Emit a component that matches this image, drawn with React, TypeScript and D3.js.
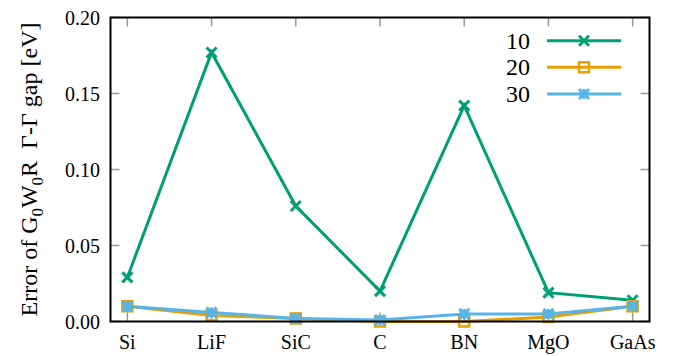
import React from "react";
import * as d3 from "d3";

const categories = ["Si", "LiF", "SiC", "C", "BN", "MgO", "GaAs"];
const series10 = [0.029, 0.177, 0.076, 0.020, 0.142, 0.019, 0.014];
const series20 = [0.010, 0.004, 0.002, 0.000, 0.000, 0.003, 0.010];
const series30 = [0.010, 0.006, 0.002, 0.001, 0.005, 0.005, 0.010];
const seriesNames = ["10", "20", "30"];
const yTicks = [0, 0.05, 0.1, 0.15, 0.2];

const W = 680;
const H = 356;
const L = 110.5, R = 649.5, T = 17.5, B = 321.5;
const FONT = '"Liberation Serif", "Times New Roman", serif';

const colors = ["#009e73", "#e69f00", "#56b4e9"];

function Marker({ kind, x, y, color }: { kind: string; x: number; y: number; color: string }) {
  const s = 5;
  if (kind === "x") {
    return (
      <path
        d={`M${x - s},${y - s}L${x + s},${y + s}M${x - s},${y + s}L${x + s},${y - s}`}
        stroke={color}
        strokeWidth={3}
        fill="none"
      />
    );
  }
  if (kind === "sq") {
    return (
      <rect x={x - 5} y={y - 5} width={10} height={10} fill="none" stroke={color} strokeWidth={2.5} />
    );
  }
  return (
    <g stroke={color} strokeWidth={3} fill="none">
      <path d={`M${x - s},${y - s}L${x + s},${y + s}M${x - s},${y + s}L${x + s},${y - s}`} />
      <path d={`M${x - s},${y}L${x + s},${y}M${x},${y - s}L${x},${y + s}`} />
    </g>
  );
}

export default function App() {
  const x = d3.scaleLinear().domain([-0.2, categories.length - 1 + 0.2]).range([L, R]);
  const y = d3.scaleLinear().domain([0, 0.2]).range([B, T]);
  const line = d3
    .line<number>()
    .x((_, i) => x(i))
    .y((d) => y(d));
  const all = [series10, series20, series30];
  const kinds = ["x", "sq", "ast"];
  const legendY = [40.7, 67.3, 94];
  const ts = { fontFamily: FONT };

  return (
    <svg width={W} height={H} style={{ position: "absolute", left: 0, top: 0, fontFamily: FONT }}>
      <rect width={W} height={H} fill="white" />
      <g stroke="#999" strokeWidth={1.5}>
        {yTicks.map((t) => (
          <g key={t}>
            <line x1={L} x2={L + 9} y1={y(t)} y2={y(t)} />
            <line x1={R} x2={R - 9} y1={y(t)} y2={y(t)} />
          </g>
        ))}
        {categories.map((c, i) => (
          <g key={c}>
            <line x1={x(i)} x2={x(i)} y1={B} y2={B - 9} />
            <line x1={x(i)} x2={x(i)} y1={T} y2={T + 9} />
          </g>
        ))}
      </g>
      {[0, 1, 2].map((si) => (
        <g key={si}>
          <path d={line(all[si]) || ""} fill="none" stroke={colors[si]} strokeWidth={3} />
          {all[si].map((v, i) => (
            <Marker key={i} kind={kinds[si]} x={x(i)} y={y(v)} color={colors[si]} />
          ))}
        </g>
      ))}
      <rect x={L} y={T} width={R - L} height={B - T} fill="none" stroke="black" strokeWidth={2} />
      {yTicks.map((t) => (
        <text key={t} x={100} y={y(t) + 7} textAnchor="end" fontSize={20} fill="black" style={ts}>
          {d3.format(".2f")(t)}
        </text>
      ))}
      {categories.map((c, i) => (
        <text key={c} x={x(i)} y={349} textAnchor="middle" fontSize={20} fill="black" style={ts}>
          {c}
        </text>
      ))}
      <text
        transform={`translate(37,${(T + B) / 2}) rotate(-90)`}
        textAnchor="middle"
        fontSize={24}
        fill="black"
        style={ts}
      >
        Error of G<tspan dy={6} fontSize={17}>0</tspan>
        <tspan dy={-6}>W</tspan>
        <tspan dy={6} fontSize={17}>0</tspan>
        <tspan dy={-6}>R</tspan>
        <tspan dx={12}>Γ-Γ gap [eV]</tspan>
      </text>
      {seriesNames.map((n, i) => (
        <g key={n}>
          <text x={530} y={legendY[i] + 8} textAnchor="end" fontSize={24} fill="black" style={ts}>
            {n}
          </text>
          <line x1={547} x2={621} y1={legendY[i]} y2={legendY[i]} stroke={colors[i]} strokeWidth={3} />
          <Marker kind={kinds[i]} x={584} y={legendY[i]} color={colors[i]} />
        </g>
      ))}
    </svg>
  );
}
